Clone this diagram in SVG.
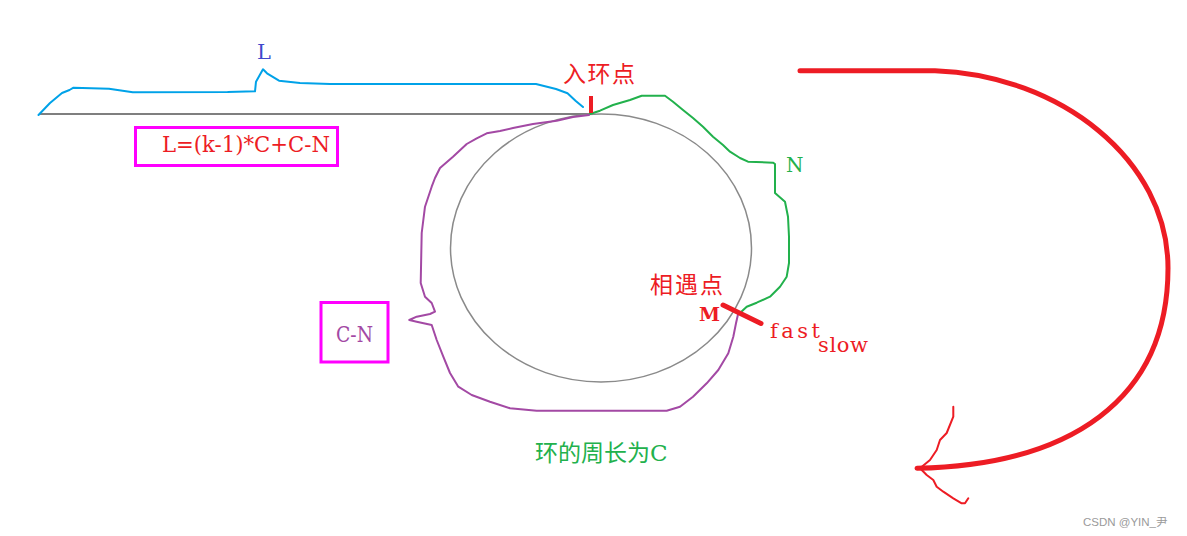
<svg xmlns="http://www.w3.org/2000/svg" width="1187" height="536" viewBox="0 0 1187 536">
<style>
text{font-family:"DejaVu Serif","Noto Sans CJK SC",serif}
.cjk{font-family:"Noto Sans CJK SC",sans-serif}
.red{fill:#ed1c24}
.hand{fill:none;stroke-linejoin:round;stroke-linecap:round}
</style>
<rect width="1187" height="536" fill="#fff"/>
<g id="baseline">
<line x1="40" y1="114" x2="590" y2="114" stroke="#7f7f7f" stroke-width="2"/>
</g>
<g id="ring">
<ellipse cx="601" cy="248" rx="150.5" ry="134" fill="none" stroke="#8a8a8a" stroke-width="1.5"/>
</g>
<g id="connectors">
<path class="hand" stroke="#00a2e8" stroke-width="2" d="M38.5,115 L50,103 L62,93 L69.5,90 L73.5,87.7 L109,88.7 L132.8,92.3 L227.6,92 L255,91.3 L256,81.7 L263,69.3 L267,73.3 L279,80.7 L300,83 L330,84 L536,84 L556,89 L567.5,93.3 L575.5,100.7 L583,107"/>
<path class="hand" stroke="#22b14c" stroke-width="2" d="M590,114 L600,110.7 L613,105 L630,100 L641.7,95.7 L665,95.7 L673,101.7 L683,110 L693,118 L703,126.7 L713,136.7 L723,145 L730,151.7 L740,158 L748,161.7 L773,162.7 L775,164 L775,193 L785,201.7 L788,216.7 L789,236.7 L789,263 L786.7,276.7 L780,286.7 L770,296.7 L756.7,302.7 L746.7,306.7 L740,313"/>
<path class="hand" stroke="#a349a4" stroke-width="2" d="M589,115 L573,117 L556.7,120.7 L533,124 L513,128 L500,131 L486.7,133.3 L476.7,138.3 L466.7,144 L453,156.7 L440,168 L435,178 L431.7,186.7 L425,206.7 L421.7,233 L420.7,283 L425,296.7 L431.7,303 L435,311.7 L430,314 L416.7,316.7 L409.3,320 L416.7,321.7 L431.7,325 L436.7,340 L443.3,356.7 L450,373 L458.3,386.7 L471.7,395 L490,401.7 L510,408.3 L536.7,410.7 L666.7,410.7 L680,406.7 L693,396.7 L706.7,383.3 L718.3,370 L728.3,353.3 L733.3,336.7 L736,323.3 L738.3,313"/>
<line x1="591" y1="96" x2="591" y2="113" stroke="#ed1c24" stroke-width="4"/>
<line x1="723" y1="305" x2="761" y2="323.5" stroke="#ed1c24" stroke-width="5" stroke-linecap="round"/>
<path class="hand" stroke="#ed1c24" stroke-width="5" d="M800,70.7 L935,70.7 C1060,75 1168,160 1168,268 C1168,400 1070,465 917,468.3"/>
<path class="hand" stroke="#ed1c24" stroke-width="2" d="M953.3,406.7 L953.3,416.7 L946.7,433 L940,440 L936.7,450 L930,460 L920,468.3 L926.7,475 L933.3,480 L936.7,486.7 L943.3,491.7 L953.3,498.3 L961.7,503.3 L965,503.3 L968.3,498.3"/>
</g>
<g id="label-L">
<text x="264" y="59" font-size="21" fill="#3f48cc" text-anchor="middle">L</text>
</g>
<g id="formula-box">
<rect x="135.5" y="127.5" width="202" height="38" fill="none" stroke="#ff00ff" stroke-width="3"/>
<text x="162" y="151.5" font-size="22.5" class="red" textLength="168" lengthAdjust="spacingAndGlyphs">L=(k-1)*C+C-N</text>
</g>
<g id="label-entry">
<text x="563" y="82" font-size="23" class="red cjk" textLength="72">入环点</text>
</g>
<g id="label-N">
<text x="786" y="171.5" font-size="20" fill="#22b14c">N</text>
</g>
<g id="label-meet">
<text x="650" y="293" font-size="23" class="red cjk" textLength="73">相遇点</text>
<text x="699" y="321" font-size="19" font-weight="bold" class="red">M</text>
<text x="770" y="338.3" font-size="21" class="red" textLength="50" lengthAdjust="spacing">fast</text>
<text x="818" y="352" font-size="21" class="red" textLength="50" lengthAdjust="spacing">slow</text>
</g>
<g id="cn-box">
<rect x="321" y="302.5" width="67" height="59.5" fill="none" stroke="#ff00ff" stroke-width="3"/>
<text x="336" y="341.5" font-size="22" fill="#a349a4" textLength="37" lengthAdjust="spacingAndGlyphs">C-N</text>
</g>
<g id="label-circumference">
<text x="535" y="461" font-size="23" fill="#22b14c">环的周长为C</text>
</g>
<g id="watermark">
<text x="1083" y="526" font-size="11.5" fill="#9a9a9a" style="font-family:'Liberation Sans','Noto Sans CJK SC',sans-serif">CSDN @YIN_尹</text>
</g>
</svg>
